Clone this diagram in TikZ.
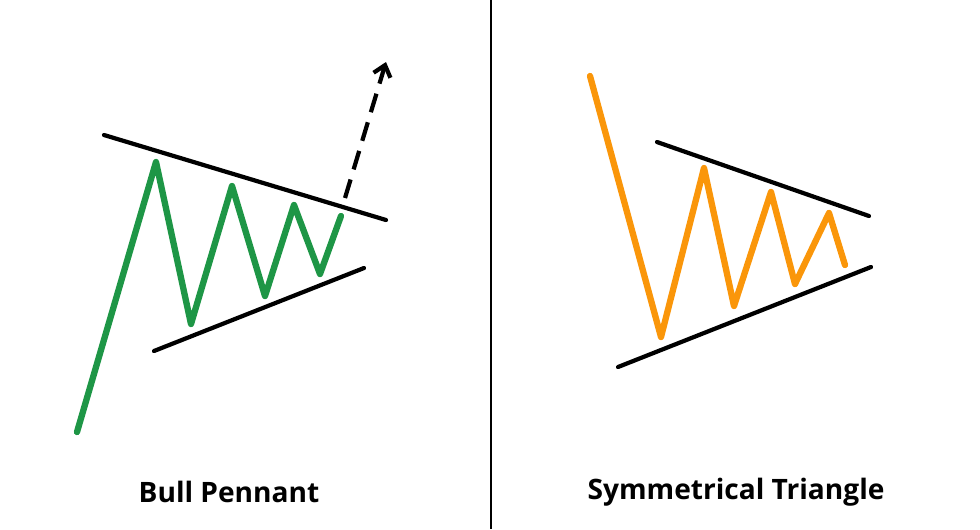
\documentclass[tikz,border=0pt]{standalone}
\usepackage{fontspec}
\setmainfont{Open Sans}
\usetikzlibrary{arrows.meta}
\definecolor{bullGreen}{RGB}{30,150,70}
\definecolor{symOrange}{RGB}{250,150,10}
\tikzset{
    trend/.style={line width=2.4pt, line cap=round, color=black},
    wave/.style={line width=3.6pt, line cap=round, line join=round},
    caption/.style={font=\bfseries\fontsize{16}{19}\selectfont, anchor=center}
}
\begin{document}
\begin{tikzpicture}[x=0.02cm, y=-0.02cm]
  \useasboundingbox (0,0) rectangle (980,529);
  % Divider
  \coordinate (divTop) at (491,0);
  \coordinate (divBot) at (491,529);
  \draw[line width=1.2pt] (divTop) -- (divBot);

  % Bull pennant
  \coordinate (bpUpA) at (104,135);
  \coordinate (bpUpB) at (386,220);
  \coordinate (bpLoA) at (154,351);
  \coordinate (bpLoB) at (364,268);
  \draw[trend] (bpUpA) -- (bpUpB);
  \draw[trend] (bpLoA) -- (bpLoB);
  \draw[wave, bullGreen] (77,432) -- (156,162) -- (191,324) -- (232,186)
    -- (265,296) -- (294,205) -- (320,274) -- (341,216);
  \coordinate (breakA) at (345,198);
  \coordinate (breakB) at (386,62);
  \draw[line width=2.4pt, dash pattern=on 11pt off 6pt, -{Straight Barb[length=6pt,width=10pt]}] (breakA) -- (breakB);
  \node[caption] (bpLabel) at (229,492) {Bull Pennant};

  % Symmetrical triangle
  \coordinate (stUpA) at (657,142);
  \coordinate (stUpB) at (869,216);
  \coordinate (stLoA) at (618,367);
  \coordinate (stLoB) at (871,267);
  \draw[trend] (stUpA) -- (stUpB);
  \draw[trend] (stLoA) -- (stLoB);
  \draw[wave, symOrange] (590,76) -- (661,337) -- (704,168) -- (734,306)
    -- (771,192) -- (795,284) -- (829,213) -- (845,265);
  \node[caption] (stLabel) at (736,492) {Symmetrical Triangle};
\end{tikzpicture}
\end{document}
